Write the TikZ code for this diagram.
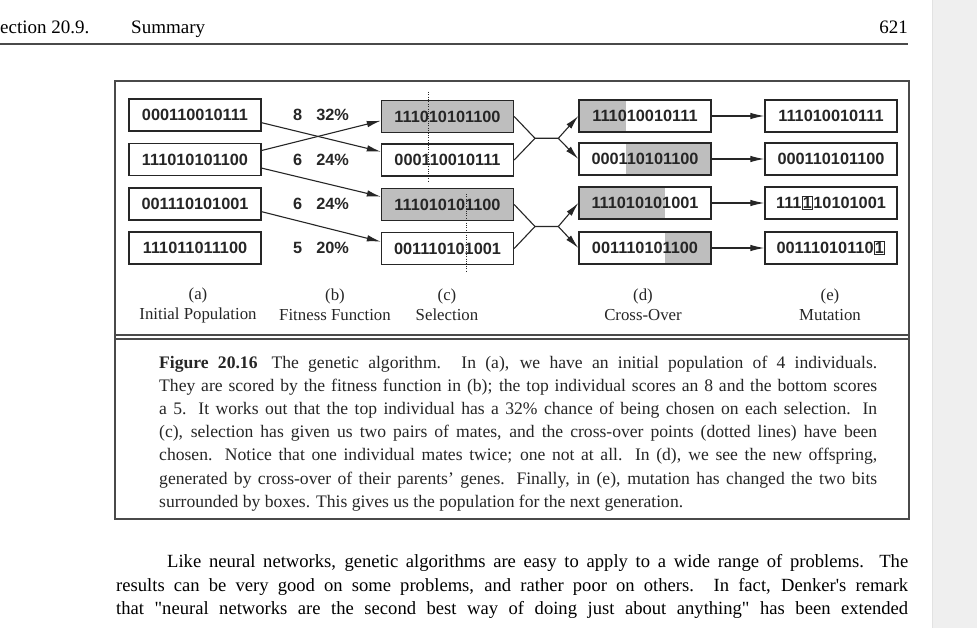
\documentclass[tikz,border=0pt]{standalone}
\usepackage{fontspec}
\setmainfont{Liberation Serif}
\newfontfamily\bitfont{Liberation Sans}
\newfontfamily\plainserif{Liberation Serif}
\usetikzlibrary{arrows.meta}
\definecolor{inkgrey}{HTML}{262626}
\definecolor{framegrey}{HTML}{4A4A4A}
\definecolor{shadegrey}{HTML}{BEBEBE}
\definecolor{stripgrey}{HTML}{EFEFEF}
\definecolor{stripedge}{HTML}{E2E2E2}
\newcommand{\flipbit}[1]{{\setlength{\fboxsep}{0.3pt}\setlength{\fboxrule}{1.1pt}\fbox{#1}}}

\begin{document}
\begin{tikzpicture}[x=1pt, y=-1pt,
    chrom/.style={draw=inkgrey, line width=1.3pt, minimum width=132pt,
      minimum height=32pt, inner sep=0pt, text=inkgrey,
      font=\bitfont\bfseries\fontsize{16.3}{16}\selectfont},
    chosen/.style={chrom, fill=shadegrey},
    headL/.style={path picture={\fill[shadegrey] (path picture bounding box.north west)
      rectangle ([xshift=#1]path picture bounding box.south west);}},
    tailR/.style={path picture={\fill[shadegrey] ([xshift=#1]path picture bounding box.north west)
      rectangle (path picture bounding box.south east);}},
    score/.style={anchor=west, text=inkgrey, inner sep=0pt,
      font=\bitfont\bfseries\fontsize{16.3}{16}\selectfont},
    arr/.style={draw=inkgrey, line width=1.1pt, -{Latex[length=14pt, width=6.5pt]}},
    link/.style={draw=inkgrey, line width=1.1pt},
    cut/.style={draw=inkgrey, line width=0.9pt, dash pattern=on 1pt off 1.4pt},
    stage/.style={align=center, inner sep=0pt, text=inkgrey,
      font=\fontsize{16.8}{20}\selectfont},
    head/.style={inner sep=0pt, text=black, font=\fontsize{19}{19}\selectfont},
  ]
  \useasboundingbox (0,0) rectangle (977,628);
  \fill[white] (0,0) rectangle (977,628);

  % grey margin strip on the right
  \fill[stripgrey] (932,0) rectangle (977,628);
  \draw[stripedge, line width=1pt] (932,0) -- (932,628);

  % running head
  \node[head, anchor=base west] (runsec) at (0,34) {ection 20.9.};
  \node[head, anchor=base west] (runtitle) at (131,34) {Summary};
  \node[head, anchor=base east] (runpage) at (908,34) {621};
  \draw[framegrey, line width=1.2pt] (0,44) -- (908,44);

  % figure frame
  \draw[framegrey, line width=1.3pt] (115,81) rectangle (909,519);
  \draw[framegrey, line width=1.2pt] (115,335) -- (909,335);
  \draw[framegrey, line width=1.2pt] (115,339) -- (909,339);

  % (a) initial population
  \node[chrom] (a1) at (195,115) {000110010111};
  \node[chrom] (a2) at (195,159.5) {111010101100};
  \node[chrom] (a3) at (195,204) {001110101001};
  \node[chrom] (a4) at (195,248) {111011011100};

  % (b) fitness
  \node[score] (b1) at (293,115) {8\hspace{14pt}32\%};
  \node[score] (b2) at (293,159.5) {6\hspace{14pt}24\%};
  \node[score] (b3) at (293,204) {6\hspace{14pt}24\%};
  \node[score] (b4) at (293,248) {5\hspace{14pt}20\%};

  % (c) selection
  \node[chosen] (c1) at (447.5,116.5) {111010101100};
  \node[chrom] (c2) at (447.5,160) {000110010111};
  \node[chosen] (c3) at (447.5,204.5) {111010101100};
  \node[chrom] (c4) at (447.5,248.5) {001110101001};

  \draw[arr] ([yshift=-7.7pt]a1.east) -- ([yshift=8.3pt]c2.west);
  \draw[arr] ([yshift=9pt]a2.east) -- ([yshift=-4.2pt]c1.west);
  \draw[arr] ([yshift=-8.6pt]a2.east) -- ([yshift=7.8pt]c3.west);
  \draw[arr] ([yshift=-7.7pt]a3.east) -- ([yshift=6.8pt]c4.west);

  % cross-over points
  \draw[cut] ([xshift=-19.2pt, yshift=8pt]c1.north) -- ([xshift=-19.2pt, yshift=-6pt]c2.south);
  \draw[cut] ([xshift=19.2pt, yshift=-6pt]c3.north) -- ([xshift=19.2pt, yshift=-6.5pt]c4.south);

  % (d) cross-over
  \node[chrom, headL=47.4pt] (d1) at (645,116) {111010010111};
  \node[chrom, tailR=47.4pt] (d2) at (645,159) {000110101100};
  \node[chrom, headL=86.4pt] (d3) at (645,203) {111010101001};
  \node[chrom, tailR=86.4pt] (d4) at (645,248) {001110101100};

  \coordinate (x1) at (535,138.3);
  \coordinate (x1r) at (558.3,138.3);
  \coordinate (x2) at (535,226.5);
  \coordinate (x2r) at (558.3,226.5);

  \draw[link] (c1.east) -- (x1) -- (x1r);
  \draw[link] (c2.east) -- (x1);
  \draw[arr] (x1r) -- (d1.west);
  \draw[arr] (x1r) -- (d2.west);
  \draw[link] (c3.east) -- (x2) -- (x2r);
  \draw[link] (c4.east) -- (x2);
  \draw[arr] (x2r) -- (d3.west);
  \draw[arr] (x2r) -- (d4.west);

  % (e) mutation
  \node[chrom] (e1) at (831,116) {111010010111};
  \node[chrom] (e2) at (831,159) {000110101100};
  \node[chrom] (e3) at (831,203) {111\flipbit{1}10101001};
  \node[chrom] (e4) at (831,248) {00111010110\flipbit{1}};

  \foreach \i in {1,...,4}
    \draw[arr] (d\i) -- (e\i);

  % stage labels
  \node[stage] (la) at (198,305) {(a)\\Initial Population};
  \node[stage] (lb) at (335,305) {(b)\\Fitness Function};
  \node[stage] (lc) at (447,305) {(c)\\Selection};
  \node[stage] (ld) at (643,305) {(d)\\Cross-Over};
  \node[stage] (le) at (830,305) {(e)\\Mutation};

  % caption
  \node[anchor=north west, inner sep=0pt, text width=718pt, align=justify,
    text=inkgrey, font=\fontsize{17.6}{23.2}\selectfont] (cap) at (159,355.5) {%
    \textbf{Figure 20.16}\hspace{14pt}The genetic algorithm. In (a), we have an initial population of 4 individuals.\linebreak
    They are scored by the fitness function in (b); the top individual scores an 8 and the bottom scores\linebreak
    a 5. It works out that the top individual has a 32\% chance of being chosen on each selection. In\linebreak
    (c), selection has given us two pairs of mates, and the cross-over points (dotted lines) have been\linebreak
    chosen. Notice that one individual mates twice; one not at all. In (d), we see the new offspring,\linebreak
    generated by cross-over of their parents’ genes. Finally, in (e), mutation has changed the two bits\linebreak
    surrounded by boxes. This gives us the population for the next generation.};

  % running text
  \node[anchor=north west, inner sep=0pt, text width=792pt, align=justify,
    text=black, font=\fontsize{18.6}{23.5}\selectfont] (body) at (116,554.5) {%
    \hspace*{51pt}Like neural networks, genetic algorithms are easy to apply to a wide range of problems. The\linebreak
    results can be very good on some problems, and rather poor on others. In fact, Denker{\plainserif'}s remark\linebreak
    that {\plainserif"}neural networks are the second best way of doing just about anything{\plainserif"} has been extended\linebreak
    \mbox{}};
\end{tikzpicture}
\end{document}
